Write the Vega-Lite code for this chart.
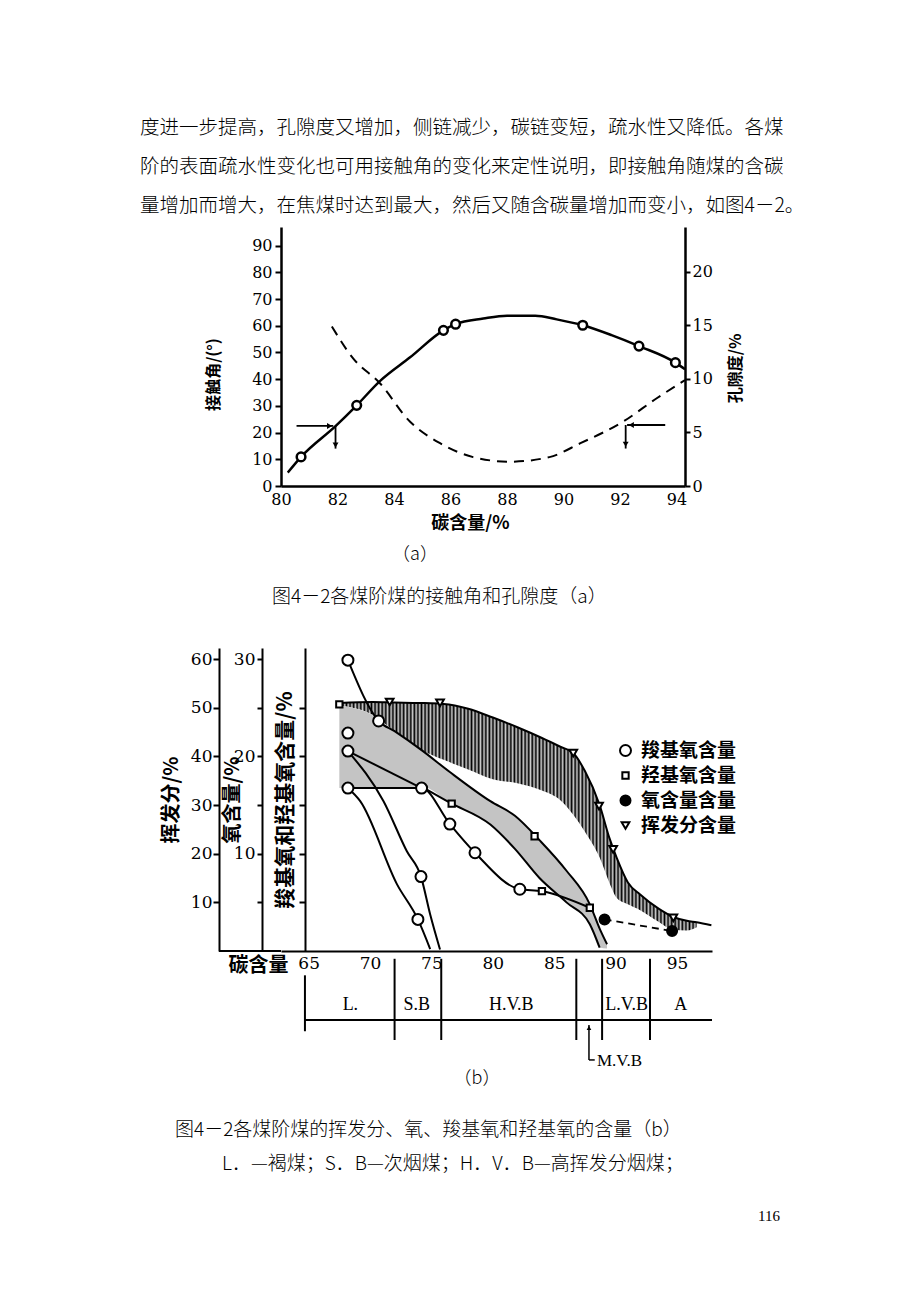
{
"$schema": "https://vega.github.io/schema/vega-lite/v6.json",
"background": "white",
"padding": {"left": 140, "top": 117, "right": 10, "bottom": 10},
"spacing": 0,
"config": {
  "view": {"stroke": null},
  "axis": {"domainColor": "black", "tickColor": "black", "labelColor": "black", "titleColor": "black", "grid": false},
  "legend": {"labelColor": "black"},
  "title": {"color": "black", "subtitleColor": "black"}
},
"datasets": {
  "contactCurve": [{"c":80.24,"a":5},{"c":80.71,"a":10.9},{"c":81.94,"a":22.5},{"c":82.68,"a":30.2},{"c":83.5,"a":39.3},{"c":84.57,"a":48.2},{"c":85.75,"a":58.3},{"c":86.18,"a":60.6},{"c":87.16,"a":62.7},{"c":88,"a":63.8},{"c":89,"a":63.8},{"c":89.76,"a":62.4},{"c":90.68,"a":60.2},{"c":91.7,"a":56.5},{"c":92.67,"a":52.4},{"c":93.96,"a":46.2},{"c":94.3,"a":43.7}],
  "contactPts": [{"c":80.71,"a":10.9},{"c":82.68,"a":30.2},{"c":85.75,"a":58.3},{"c":86.18,"a":60.6},{"c":90.68,"a":60.2},{"c":92.67,"a":52.4},{"c":93.96,"a":46.2}],
  "porosity": [{"c":81.8,"p":14.9},{"c":82.56,"p":11.9},{"c":83.5,"p":9.6},{"c":84.57,"p":6.0},{"c":85.63,"p":4.0},{"c":86.8,"p":2.7},{"c":88.1,"p":2.27},{"c":89.5,"p":2.7},{"c":90.6,"p":4.0},{"c":92.1,"p":6.0},{"c":93.3,"p":8.2},{"c":94.3,"p":9.9}],
  "arrowSegA": [{"c":80.55,"a":22.5,"c2":81.85,"a2":22.5},{"c":81.93,"a":22.5,"c2":81.93,"a2":14}],
  "arrowHeadA": [{"c":81.72,"a":22.5,"dir":"right"},{"c":81.93,"a":15.3,"dir":"down"}],
  "arrowSegP": [{"c":92.25,"p":5.7,"c2":93.6,"p2":5.7},{"c":92.2,"p":5.7,"c2":92.2,"p2":3.5}],
  "arrowHeadP": [{"c":92.4,"p":5.7,"dir":"left"},{"c":92.2,"p":3.9,"dir":"down"}],
  "hatch": [{"c":67.5,"top":51,"bot":50.5},{"c":70.2,"top":51.2,"bot":48.6},{"c":72,"top":51.1,"bot":45.2},{"c":74,"top":51,"bot":41.6},{"c":76,"top":50.8,"bot":39.3},{"c":78,"top":49.8,"bot":37.3},{"c":80,"top":48,"bot":35.3},{"c":82,"top":46,"bot":34.5},{"c":84,"top":43.8,"bot":33},{"c":85.5,"top":42,"bot":31},{"c":86.55,"top":40.7,"bot":28},{"c":87.5,"top":37,"bot":24.5},{"c":88.7,"top":30,"bot":19.2},{"c":89.5,"top":23.2,"bot":14},{"c":90.1,"top":19.1,"bot":10.9},{"c":91,"top":14.1,"bot":9.6},{"c":92,"top":11.6,"bot":8.4},{"c":93.5,"top":8.7,"bot":6},{"c":94.7,"top":7,"bot":4.3},{"c":95.8,"top":6.2,"bot":4.2},{"c":96.6,"top":5.9,"bot":4.9}],
  "stipple": [{"c":67.5,"top":50.5,"bot":33.5},{"c":70,"top":48.8,"bot":33.6},{"c":72,"top":45.2,"bot":33.6},{"c":74.2,"top":41.3,"bot":33.8},{"c":76.5,"top":36.8,"bot":30.5},{"c":79.8,"top":30.8,"bot":26},{"c":81.8,"top":27.8,"bot":21},{"c":83.8,"top":22.8,"bot":15},{"c":86,"top":16.5,"bot":10},{"c":87.9,"top":9.6,"bot":5.5},{"c":88.7,"top":4.6,"bot":0.7},{"c":89.3,"top":1.4,"bot":0.5}],
  "lines": [
    {"line":"vt","c":67.5,"v":51},{"line":"vt","c":70.2,"v":51.2},{"line":"vt","c":72,"v":51.1},{"line":"vt","c":74,"v":51},{"line":"vt","c":76,"v":50.8},{"line":"vt","c":78,"v":49.8},{"line":"vt","c":80,"v":48},{"line":"vt","c":82,"v":46},{"line":"vt","c":84,"v":43.8},{"line":"vt","c":85.5,"v":42},{"line":"vt","c":86.55,"v":40.7},{"line":"vt","c":87.5,"v":37},{"line":"vt","c":88.7,"v":30},{"line":"vt","c":89.5,"v":23.2},{"line":"vt","c":90.1,"v":19.1},{"line":"vt","c":91,"v":14.1},{"line":"vt","c":92,"v":11.6},{"line":"vt","c":93.5,"v":8.7},{"line":"vt","c":94.7,"v":7},{"line":"vt","c":95.8,"v":6.2},{"line":"vt","c":96.6,"v":5.9},{"line":"vt","c":97.8,"v":5.3},
    {"line":"c1","c":68.2,"v":59.8},{"line":"c1","c":70.7,"v":47.3},{"line":"c1","c":72,"v":45.2},{"line":"c1","c":74.2,"v":41.3},{"line":"c1","c":76.5,"v":36.8},{"line":"c1","c":79.8,"v":30.8},{"line":"c1","c":81.8,"v":27.8},{"line":"c1","c":83.8,"v":22.8},{"line":"c1","c":86,"v":16.5},{"line":"c1","c":87.9,"v":9.6},{"line":"c1","c":88.7,"v":4.6},{"line":"c1","c":89.3,"v":1.4},
    {"line":"sl","c":74.2,"v":33.8},{"line":"sl","c":76.5,"v":30.5},{"line":"sl","c":79.8,"v":26},{"line":"sl","c":81.8,"v":21},{"line":"sl","c":83.8,"v":15},{"line":"sl","c":86,"v":10},{"line":"sl","c":87.9,"v":5.5},{"line":"sl","c":88.7,"v":0.7},
    {"line":"c2","c":68.2,"v":41.1},{"line":"c2","c":74.2,"v":33.5},
    {"line":"c3","c":68.2,"v":33.5},{"line":"c3","c":74.2,"v":33.5},{"line":"c3","c":76.5,"v":26.1},{"line":"c3","c":78.55,"v":20.2},{"line":"c3","c":82.2,"v":12.7},{"line":"c3","c":84,"v":12.3},{"line":"c3","c":87.9,"v":8.9},
    {"line":"s1","c":68.2,"v":41.1},{"line":"s1","c":71.1,"v":30.8},{"line":"s1","c":73,"v":20.5},{"line":"s1","c":74.15,"v":15.3},{"line":"s1","c":74.9,"v":7.5},{"line":"s1","c":75.7,"v":0.3},
    {"line":"s2","c":68.2,"v":33.5},{"line":"s2","c":69.2,"v":30.8},{"line":"s2","c":72.2,"v":13.7},{"line":"s2","c":73.9,"v":6.5},{"line":"s2","c":74.9,"v":0.4}
  ],
  "oxygen": [{"c":89.1,"o":3.25},{"c":94.6,"o":2.05}],
  "markers": [
    {"series":"羧基氧含量","c":68.2,"v":59.8},{"series":"羧基氧含量","c":70.7,"v":47.3},{"series":"羧基氧含量","c":68.2,"v":44.8},{"series":"羧基氧含量","c":68.2,"v":41.1},{"series":"羧基氧含量","c":68.2,"v":33.5},{"series":"羧基氧含量","c":74.2,"v":33.5},{"series":"羧基氧含量","c":74.15,"v":15.3},{"series":"羧基氧含量","c":73.9,"v":6.5},{"series":"羧基氧含量","c":76.5,"v":26.1},{"series":"羧基氧含量","c":78.55,"v":20.2},{"series":"羧基氧含量","c":82.2,"v":12.7},
    {"series":"羟基氧含量","c":67.5,"v":50.7},{"series":"羟基氧含量","c":76.65,"v":30.3},{"series":"羟基氧含量","c":83.4,"v":23.6},{"series":"羟基氧含量","c":84,"v":12.3},{"series":"羟基氧含量","c":87.9,"v":8.9},
    {"series":"氧含量含量","c":89.1,"v":6.5},{"series":"氧含量含量","c":94.6,"v":4.1},
    {"series":"挥发分含量","c":71.6,"v":51.2},{"series":"挥发分含量","c":75.7,"v":51},{"series":"挥发分含量","c":86.55,"v":40.7},{"series":"挥发分含量","c":88.65,"v":29.8},{"series":"挥发分含量","c":89.8,"v":20.9},{"series":"挥发分含量","c":94.7,"v":6.8}
  ],
  "axisBase": [{"c":57.7,"c2":62.75}],
  "rankLine": [{"c":64.7,"c2":97.85}],
  "rankBounds": [{"c":72.0},{"c":75.8},{"c":86.8},{"c":88.9},{"c":92.8}],
  "rankStart": [{"c":64.7}],
  "rankLabels": [{"rank":"L.","c":68.4},{"rank":"S.B","c":73.8},{"rank":"H.V.B","c":81.5},{"rank":"L.V.B","c":90.9},{"rank":"A","c":95.3}],
  "mvb": [{"label":"M.V.B","c":87.83,"c2":88.3}]
},
"resolve": {
  "scale": {"x": "independent", "y": "independent", "shape": "independent", "fill": "independent", "size": "independent"},
  "legend": {"shape": "independent", "fill": "independent", "size": "independent"}
},
"vconcat": [
  {
    "width": 404, "height": 259,
    "title": {"text": ["度进一步提高，孔隙度又增加，侧链减少，碳链变短，疏水性又降低。各煤", "阶的表面疏水性变化也可用接触角的变化来定性说明，即接触角随煤的含碳", "量增加而增大，在焦煤时达到最大，然后又随含碳量增加而变小，如图4－2。"], "anchor": "start", "align": "left", "frame": "group", "dx": -141, "offset": 11, "font": "Noto Sans CJK SC", "fontSize": 19.5, "fontWeight": 300, "lineHeight": 39, "color": "black"},
    "encoding": {"x": {"field": "c", "type": "quantitative", "scale": {"domain": [80, 94.3], "nice": false, "zero": false},
      "axis": {"title": "碳含量/%", "values": [80,82,84,86,88,90,92,94], "tickSize": 0, "labelPadding": 5, "labelFont": "DejaVu Serif", "labelFontSize": 16, "labelFlush": false, "labelOverlap": false, "domainWidth": 2.5, "titleFont": "Noto Sans CJK SC", "titleFontSize": 18, "titleFontWeight": "bold", "titleX": 189, "titleY": 37, "titleBaseline": "middle", "titleAlign": "center"}}},
    "layer": [
      {"data": {"name": "contactCurve"}, "mark": {"type": "line", "interpolate": "monotone", "color": "black", "strokeWidth": 2.5},
       "encoding": {"y": {"field": "a", "type": "quantitative", "scale": {"domain": [0, 97], "nice": false, "zero": false},
         "axis": {"orient": "left", "title": "接触角/(°)", "values": [0,10,20,30,40,50,60,70,80,90], "tickSize": 6, "tickWidth": 2, "labelPadding": 3, "labelFont": "DejaVu Serif", "labelFontSize": 16, "labelFlush": false, "domainWidth": 2.5, "titleFont": "Noto Sans CJK SC", "titleFontSize": 16, "titleFontWeight": "bold", "titleX": -68, "titleY": 147, "titleAngle": 270, "titleBaseline": "middle", "titleAlign": "center"}}}},
      {"data": {"name": "contactPts"}, "mark": {"type": "point", "shape": "circle", "filled": true, "fill": "white", "stroke": "black", "strokeWidth": 2.5, "size": 75, "opacity": 1},
       "encoding": {"y": {"field": "a", "type": "quantitative", "scale": {"domain": [0, 97], "nice": false, "zero": false}, "axis": null}}},
      {"data": {"name": "arrowSegA"}, "mark": {"type": "rule", "color": "black", "strokeWidth": 1.8},
       "encoding": {"x2": {"field": "c2"}, "y": {"field": "a", "type": "quantitative", "scale": {"domain": [0, 97], "nice": false, "zero": false}, "axis": null}, "y2": {"field": "a2"}}},
      {"data": {"name": "arrowHeadA"}, "mark": {"type": "point", "filled": true, "color": "black", "size": 35, "opacity": 1},
       "encoding": {"y": {"field": "a", "type": "quantitative", "scale": {"domain": [0, 97], "nice": false, "zero": false}, "axis": null}, "shape": {"field": "dir", "type": "nominal", "scale": {"domain": ["right","down","left"], "range": ["triangle-right","triangle-down","triangle-left"]}, "legend": null}}},
      {"data": {"name": "porosity"}, "mark": {"type": "line", "interpolate": "monotone", "color": "black", "strokeWidth": 2, "strokeDash": [10, 7]},
       "encoding": {"y": {"field": "p", "type": "quantitative", "scale": {"domain": [0, 24.2], "nice": false, "zero": false},
         "axis": {"orient": "right", "title": "孔隙度/%", "values": [0,5,10,15,20], "tickSize": 5, "tickWidth": 2, "labelPadding": 2, "labelFont": "DejaVu Serif", "labelFontSize": 16, "labelFlush": false, "domainWidth": 2.5, "titleFont": "Noto Sans CJK SC", "titleFontSize": 16, "titleFontWeight": "bold", "titleX": 50, "titleY": 141, "titleAngle": 270, "titleBaseline": "middle", "titleAlign": "center"}}}},
      {"data": {"name": "arrowSegP"}, "mark": {"type": "rule", "color": "black", "strokeWidth": 1.8},
       "encoding": {"x2": {"field": "c2"}, "y": {"field": "p", "type": "quantitative", "scale": {"domain": [0, 24.2], "nice": false, "zero": false}, "axis": null}, "y2": {"field": "p2"}}},
      {"data": {"name": "arrowHeadP"}, "mark": {"type": "point", "filled": true, "color": "black", "size": 35, "opacity": 1},
       "encoding": {"y": {"field": "p", "type": "quantitative", "scale": {"domain": [0, 24.2], "nice": false, "zero": false}, "axis": null}, "shape": {"field": "dir", "type": "nominal", "scale": {"domain": ["right","down","left"], "range": ["triangle-right","triangle-down","triangle-left"]}, "legend": null}}}
    ],
    "resolve": {"scale": {"y": "independent"}}
  },
  {
    "width": 268, "height": 1, "data": {"values": []}, "mark": {"type": "point"}, "encoding": {},
    "title": {"text": "（a）", "orient": "bottom", "anchor": "middle", "frame": "group", "offset": 13, "font": "Noto Sans CJK SC", "fontSize": 18, "fontWeight": 300, "color": "black"}
  },
  {
    "width": 300, "height": 1, "data": {"values": []}, "mark": {"type": "point"}, "encoding": {},
    "title": {"text": "图4－2各煤阶煤的接触角和孔隙度（a）", "orient": "bottom", "anchor": "start", "align": "left", "frame": "group", "dx": -9, "offset": 23, "font": "Noto Sans CJK SC", "fontSize": 19, "fontWeight": 300, "color": "black"}
  },
  {"width": 10, "height": 41, "data": {"values": []}, "mark": {"type": "point"}, "encoding": {}},
  {
    "width": 431, "height": 303,
    "encoding": {"x": {"field": "c", "type": "quantitative", "scale": {"domain": [62.75, 97.85], "nice": false, "zero": false},
      "axis": {"title": "碳含量", "values": [65,70,75,80,85,90,95], "tickSize": 0, "labelPadding": 4, "labelFont": "DejaVu Serif", "labelFontSize": 17, "labelFlush": false, "labelOverlap": false, "domainWidth": 2, "titleFont": "Noto Sans CJK SC", "titleFontSize": 20, "titleFontWeight": "bold", "titleX": 7, "titleY": 14, "titleAlign": "right", "titleBaseline": "middle", "titleAngle": 0}}},
    "layer": [
      {"data": {"name": "hatch"}, "mark": {"type": "area", "interpolate": "monotone", "opacity": 1, "fill": {"gradient": "linear", "x1": 0, "y1": 0, "x2": 1, "y2": 0, "stops": [
{"offset":0,"color":"#000"},{"offset":0.005,"color":"#ccc"},{"offset":0.01,"color":"#000"},{"offset":0.015,"color":"#ccc"},{"offset":0.02,"color":"#000"},{"offset":0.025,"color":"#ccc"},{"offset":0.03,"color":"#000"},{"offset":0.035,"color":"#ccc"},{"offset":0.04,"color":"#000"},{"offset":0.045,"color":"#ccc"},
{"offset":0.05,"color":"#000"},{"offset":0.055,"color":"#ccc"},{"offset":0.06,"color":"#000"},{"offset":0.065,"color":"#ccc"},{"offset":0.07,"color":"#000"},{"offset":0.075,"color":"#ccc"},{"offset":0.08,"color":"#000"},{"offset":0.085,"color":"#ccc"},{"offset":0.09,"color":"#000"},{"offset":0.095,"color":"#ccc"},
{"offset":0.1,"color":"#000"},{"offset":0.105,"color":"#ccc"},{"offset":0.11,"color":"#000"},{"offset":0.115,"color":"#ccc"},{"offset":0.12,"color":"#000"},{"offset":0.125,"color":"#ccc"},{"offset":0.13,"color":"#000"},{"offset":0.135,"color":"#ccc"},{"offset":0.14,"color":"#000"},{"offset":0.145,"color":"#ccc"},
{"offset":0.15,"color":"#000"},{"offset":0.155,"color":"#ccc"},{"offset":0.16,"color":"#000"},{"offset":0.165,"color":"#ccc"},{"offset":0.17,"color":"#000"},{"offset":0.175,"color":"#ccc"},{"offset":0.18,"color":"#000"},{"offset":0.185,"color":"#ccc"},{"offset":0.19,"color":"#000"},{"offset":0.195,"color":"#ccc"},
{"offset":0.2,"color":"#000"},{"offset":0.205,"color":"#ccc"},{"offset":0.21,"color":"#000"},{"offset":0.215,"color":"#ccc"},{"offset":0.22,"color":"#000"},{"offset":0.225,"color":"#ccc"},{"offset":0.23,"color":"#000"},{"offset":0.235,"color":"#ccc"},{"offset":0.24,"color":"#000"},{"offset":0.245,"color":"#ccc"},
{"offset":0.25,"color":"#000"},{"offset":0.255,"color":"#ccc"},{"offset":0.26,"color":"#000"},{"offset":0.265,"color":"#ccc"},{"offset":0.27,"color":"#000"},{"offset":0.275,"color":"#ccc"},{"offset":0.28,"color":"#000"},{"offset":0.285,"color":"#ccc"},{"offset":0.29,"color":"#000"},{"offset":0.295,"color":"#ccc"},
{"offset":0.3,"color":"#000"},{"offset":0.305,"color":"#ccc"},{"offset":0.31,"color":"#000"},{"offset":0.315,"color":"#ccc"},{"offset":0.32,"color":"#000"},{"offset":0.325,"color":"#ccc"},{"offset":0.33,"color":"#000"},{"offset":0.335,"color":"#ccc"},{"offset":0.34,"color":"#000"},{"offset":0.345,"color":"#ccc"},
{"offset":0.35,"color":"#000"},{"offset":0.355,"color":"#ccc"},{"offset":0.36,"color":"#000"},{"offset":0.365,"color":"#ccc"},{"offset":0.37,"color":"#000"},{"offset":0.375,"color":"#ccc"},{"offset":0.38,"color":"#000"},{"offset":0.385,"color":"#ccc"},{"offset":0.39,"color":"#000"},{"offset":0.395,"color":"#ccc"},
{"offset":0.4,"color":"#000"},{"offset":0.405,"color":"#ccc"},{"offset":0.41,"color":"#000"},{"offset":0.415,"color":"#ccc"},{"offset":0.42,"color":"#000"},{"offset":0.425,"color":"#ccc"},{"offset":0.43,"color":"#000"},{"offset":0.435,"color":"#ccc"},{"offset":0.44,"color":"#000"},{"offset":0.445,"color":"#ccc"},
{"offset":0.45,"color":"#000"},{"offset":0.455,"color":"#ccc"},{"offset":0.46,"color":"#000"},{"offset":0.465,"color":"#ccc"},{"offset":0.47,"color":"#000"},{"offset":0.475,"color":"#ccc"},{"offset":0.48,"color":"#000"},{"offset":0.485,"color":"#ccc"},{"offset":0.49,"color":"#000"},{"offset":0.495,"color":"#ccc"},
{"offset":0.5,"color":"#000"},{"offset":0.505,"color":"#ccc"},{"offset":0.51,"color":"#000"},{"offset":0.515,"color":"#ccc"},{"offset":0.52,"color":"#000"},{"offset":0.525,"color":"#ccc"},{"offset":0.53,"color":"#000"},{"offset":0.535,"color":"#ccc"},{"offset":0.54,"color":"#000"},{"offset":0.545,"color":"#ccc"},
{"offset":0.55,"color":"#000"},{"offset":0.555,"color":"#ccc"},{"offset":0.56,"color":"#000"},{"offset":0.565,"color":"#ccc"},{"offset":0.57,"color":"#000"},{"offset":0.575,"color":"#ccc"},{"offset":0.58,"color":"#000"},{"offset":0.585,"color":"#ccc"},{"offset":0.59,"color":"#000"},{"offset":0.595,"color":"#ccc"},
{"offset":0.6,"color":"#000"},{"offset":0.605,"color":"#ccc"},{"offset":0.61,"color":"#000"},{"offset":0.615,"color":"#ccc"},{"offset":0.62,"color":"#000"},{"offset":0.625,"color":"#ccc"},{"offset":0.63,"color":"#000"},{"offset":0.635,"color":"#ccc"},{"offset":0.64,"color":"#000"},{"offset":0.645,"color":"#ccc"},
{"offset":0.65,"color":"#000"},{"offset":0.655,"color":"#ccc"},{"offset":0.66,"color":"#000"},{"offset":0.665,"color":"#ccc"},{"offset":0.67,"color":"#000"},{"offset":0.675,"color":"#ccc"},{"offset":0.68,"color":"#000"},{"offset":0.685,"color":"#ccc"},{"offset":0.69,"color":"#000"},{"offset":0.695,"color":"#ccc"},
{"offset":0.7,"color":"#000"},{"offset":0.705,"color":"#ccc"},{"offset":0.71,"color":"#000"},{"offset":0.715,"color":"#ccc"},{"offset":0.72,"color":"#000"},{"offset":0.725,"color":"#ccc"},{"offset":0.73,"color":"#000"},{"offset":0.735,"color":"#ccc"},{"offset":0.74,"color":"#000"},{"offset":0.745,"color":"#ccc"},
{"offset":0.75,"color":"#000"},{"offset":0.755,"color":"#ccc"},{"offset":0.76,"color":"#000"},{"offset":0.765,"color":"#ccc"},{"offset":0.77,"color":"#000"},{"offset":0.775,"color":"#ccc"},{"offset":0.78,"color":"#000"},{"offset":0.785,"color":"#ccc"},{"offset":0.79,"color":"#000"},{"offset":0.795,"color":"#ccc"},
{"offset":0.8,"color":"#000"},{"offset":0.805,"color":"#ccc"},{"offset":0.81,"color":"#000"},{"offset":0.815,"color":"#ccc"},{"offset":0.82,"color":"#000"},{"offset":0.825,"color":"#ccc"},{"offset":0.83,"color":"#000"},{"offset":0.835,"color":"#ccc"},{"offset":0.84,"color":"#000"},{"offset":0.845,"color":"#ccc"},
{"offset":0.85,"color":"#000"},{"offset":0.855,"color":"#ccc"},{"offset":0.86,"color":"#000"},{"offset":0.865,"color":"#ccc"},{"offset":0.87,"color":"#000"},{"offset":0.875,"color":"#ccc"},{"offset":0.88,"color":"#000"},{"offset":0.885,"color":"#ccc"},{"offset":0.89,"color":"#000"},{"offset":0.895,"color":"#ccc"},
{"offset":0.9,"color":"#000"},{"offset":0.905,"color":"#ccc"},{"offset":0.91,"color":"#000"},{"offset":0.915,"color":"#ccc"},{"offset":0.92,"color":"#000"},{"offset":0.925,"color":"#ccc"},{"offset":0.93,"color":"#000"},{"offset":0.935,"color":"#ccc"},{"offset":0.94,"color":"#000"},{"offset":0.945,"color":"#ccc"},
{"offset":0.95,"color":"#000"},{"offset":0.955,"color":"#ccc"},{"offset":0.96,"color":"#000"},{"offset":0.965,"color":"#ccc"},{"offset":0.97,"color":"#000"},{"offset":0.975,"color":"#ccc"},{"offset":0.98,"color":"#000"},{"offset":0.985,"color":"#ccc"},{"offset":0.99,"color":"#000"},{"offset":0.995,"color":"#ccc"},
{"offset":1,"color":"#000"}]}},
       "encoding": {"y": {"field": "top", "type": "quantitative", "scale": {"domain": [0, 62.3], "nice": false, "zero": false},
         "axis": {"orient": "left", "offset": 62, "title": "挥发分/%", "values": [10,20,30,40,50,60], "tickSize": 6, "tickWidth": 2, "labelPadding": 1, "labelFont": "DejaVu Serif", "labelFontSize": 17, "labelFlush": false, "domainWidth": 2, "titleFont": "Noto Sans CJK SC", "titleFontSize": 20, "titleFontWeight": "bold", "titlePadding": 9}},
         "y2": {"field": "bot"}}},
      {"data": {"name": "stipple"}, "mark": {"type": "area", "interpolate": "monotone", "opacity": 1, "fill": "#c4c4c4"},
       "encoding": {"y": {"field": "top", "type": "quantitative", "scale": {"domain": [0, 62.3], "nice": false, "zero": false}, "axis": null}, "y2": {"field": "bot"}}},
      {"data": {"name": "lines"}, "mark": {"type": "line", "interpolate": "monotone", "color": "black", "strokeWidth": 2},
       "encoding": {"detail": {"field": "line"}, "y": {"field": "v", "type": "quantitative", "scale": {"domain": [0, 62.3], "nice": false, "zero": false},
         "axis": {"orient": "left", "offset": -24, "title": "羧基氧和羟基氧含量/%", "values": [10,20,30,40,50], "labels": false, "tickSize": 6, "tickWidth": 2, "domainWidth": 2, "titleFont": "Noto Sans CJK SC", "titleFontSize": 21, "titleFontWeight": "bold", "titlePadding": 3}}}},
      {"data": {"name": "oxygen"}, "mark": {"type": "line", "color": "black", "strokeWidth": 1.8, "strokeDash": [7, 5]},
       "encoding": {"y": {"field": "o", "type": "quantitative", "scale": {"domain": [0, 31.15], "nice": false, "zero": false},
         "axis": {"orient": "left", "offset": 19, "title": "氧含量/%", "values": [5,10,15,20,25,30], "labelExpr": "datum.value % 10 === 0 ? datum.label : ''", "tickSize": 5, "tickWidth": 2, "labelPadding": 2, "labelFont": "DejaVu Serif", "labelFontSize": 17, "labelFlush": false, "domainWidth": 2, "titleFont": "Noto Sans CJK SC", "titleFontSize": 20, "titleFontWeight": "bold", "titlePadding": -9}}}},
      {"data": {"name": "axisBase"}, "mark": {"type": "rule", "color": "black", "strokeWidth": 2},
       "encoding": {"x2": {"field": "c2"}, "y": {"datum": 0, "scale": {"domain": [0, 62.3], "nice": false, "zero": false}, "axis": null}}},
      {"data": {"name": "rankLine"}, "mark": {"type": "rule", "color": "black", "strokeWidth": 2},
       "encoding": {"x2": {"field": "c2"}, "y": {"datum": -14.2, "scale": {"domain": [0, 62.3], "nice": false, "zero": false}, "axis": null}}},
      {"data": {"name": "rankBounds"}, "mark": {"type": "rule", "color": "black", "strokeWidth": 2},
       "encoding": {"y": {"datum": -1.6, "scale": {"domain": [0, 62.3], "nice": false, "zero": false}, "axis": null}, "y2": {"datum": -18.3}}},
      {"data": {"name": "rankStart"}, "mark": {"type": "rule", "color": "black", "strokeWidth": 2},
       "encoding": {"y": {"datum": -5, "scale": {"domain": [0, 62.3], "nice": false, "zero": false}, "axis": null}, "y2": {"datum": -16.5}}},
      {"data": {"name": "rankLabels"}, "mark": {"type": "text", "font": "Liberation Serif", "fontSize": 18, "color": "black", "baseline": "middle"},
       "encoding": {"y": {"datum": -11.2, "scale": {"domain": [0, 62.3], "nice": false, "zero": false}, "axis": null}, "text": {"field": "rank"}}},
      {"data": {"name": "mvb"}, "mark": {"type": "rule", "color": "black", "strokeWidth": 1.5},
       "encoding": {"y": {"datum": -15.2, "scale": {"domain": [0, 62.3], "nice": false, "zero": false}, "axis": null}, "y2": {"datum": -22.4}}},
      {"data": {"name": "mvb"}, "mark": {"type": "rule", "color": "black", "strokeWidth": 1.5},
       "encoding": {"x2": {"field": "c2"}, "y": {"datum": -22.4, "scale": {"domain": [0, 62.3], "nice": false, "zero": false}, "axis": null}}},
      {"data": {"name": "mvb"}, "mark": {"type": "point", "shape": "triangle-up", "filled": true, "color": "black", "size": 22, "opacity": 1},
       "encoding": {"y": {"datum": -15.8, "scale": {"domain": [0, 62.3], "nice": false, "zero": false}, "axis": null}}},
      {"data": {"name": "mvb"}, "mark": {"type": "text", "align": "left", "baseline": "middle", "dx": 8, "font": "Liberation Serif", "fontSize": 17, "color": "black"},
       "encoding": {"y": {"datum": -22.6, "scale": {"domain": [0, 62.3], "nice": false, "zero": false}, "axis": null}, "text": {"field": "label"}}},
      {"data": {"name": "markers"}, "mark": {"type": "point", "filled": true, "stroke": "black", "strokeWidth": 2, "opacity": 1},
       "encoding": {
         "y": {"field": "v", "type": "quantitative", "scale": {"domain": [0, 62.3], "nice": false, "zero": false}, "axis": null},
         "shape": {"field": "series", "type": "nominal", "scale": {"domain": ["羧基氧含量","羟基氧含量","氧含量含量","挥发分含量"], "range": ["circle","square","circle","triangle-down"]},
           "legend": {"orient": "none", "legendX": 335, "legendY": 93, "title": null, "labelFont": "Noto Sans CJK SC", "labelFontSize": 19, "labelFontWeight": "bold", "labelOffset": 6, "rowPadding": 5, "padding": 0, "symbolStrokeWidth": 2}},
         "fill": {"field": "series", "type": "nominal", "scale": {"domain": ["羧基氧含量","羟基氧含量","氧含量含量","挥发分含量"], "range": ["white","white","black","white"]},
           "legend": {"orient": "none", "legendX": 335, "legendY": 93, "title": null, "labelFont": "Noto Sans CJK SC", "labelFontSize": 19, "labelFontWeight": "bold", "labelOffset": 6, "rowPadding": 5, "padding": 0, "symbolStrokeWidth": 2}},
         "size": {"field": "series", "type": "nominal", "scale": {"type": "ordinal", "domain": ["羧基氧含量","羟基氧含量","氧含量含量","挥发分含量"], "range": [121, 40, 100, 60]},
           "legend": {"orient": "none", "legendX": 335, "legendY": 93, "title": null, "labelFont": "Noto Sans CJK SC", "labelFontSize": 19, "labelFontWeight": "bold", "labelOffset": 6, "rowPadding": 5, "padding": 0, "symbolStrokeWidth": 2}}
       }}
    ],
    "resolve": {"scale": {"y": "independent"}}
  },
  {
    "width": 392, "height": 1, "data": {"values": []}, "mark": {"type": "point"}, "encoding": {},
    "title": {"text": "（b）", "orient": "bottom", "anchor": "middle", "frame": "group", "offset": 0, "font": "Noto Sans CJK SC", "fontSize": 18, "fontWeight": 300, "color": "black"}
  },
  {
    "width": 400, "height": 1, "data": {"values": []}, "mark": {"type": "point"}, "encoding": {},
    "title": {"text": "图4－2各煤阶煤的挥发分、氧、羧基氧和羟基氧的含量（b）", "orient": "bottom", "anchor": "start", "align": "left", "frame": "group", "dx": -106, "offset": 32, "font": "Noto Sans CJK SC", "fontSize": 19, "fontWeight": 300, "color": "black"}
  },
  {
    "width": 400, "height": 1, "data": {"values": []}, "mark": {"type": "point"}, "encoding": {},
    "title": {"text": "L．—褐煤；S．B—次烟煤；H．V．B—高挥发分烟煤；", "orient": "bottom", "anchor": "start", "align": "left", "frame": "group", "dx": -59, "offset": 14, "font": "Noto Sans CJK SC", "fontSize": 19, "fontWeight": 300, "color": "black"}
  },
  {
    "width": 499, "height": 1, "data": {"values": []}, "mark": {"type": "point"}, "encoding": {},
    "title": {"text": "116", "orient": "bottom", "anchor": "end", "align": "right", "frame": "group", "offset": 34, "font": "Liberation Serif", "fontSize": 15, "fontWeight": "normal", "color": "black"}
  }
]
}
